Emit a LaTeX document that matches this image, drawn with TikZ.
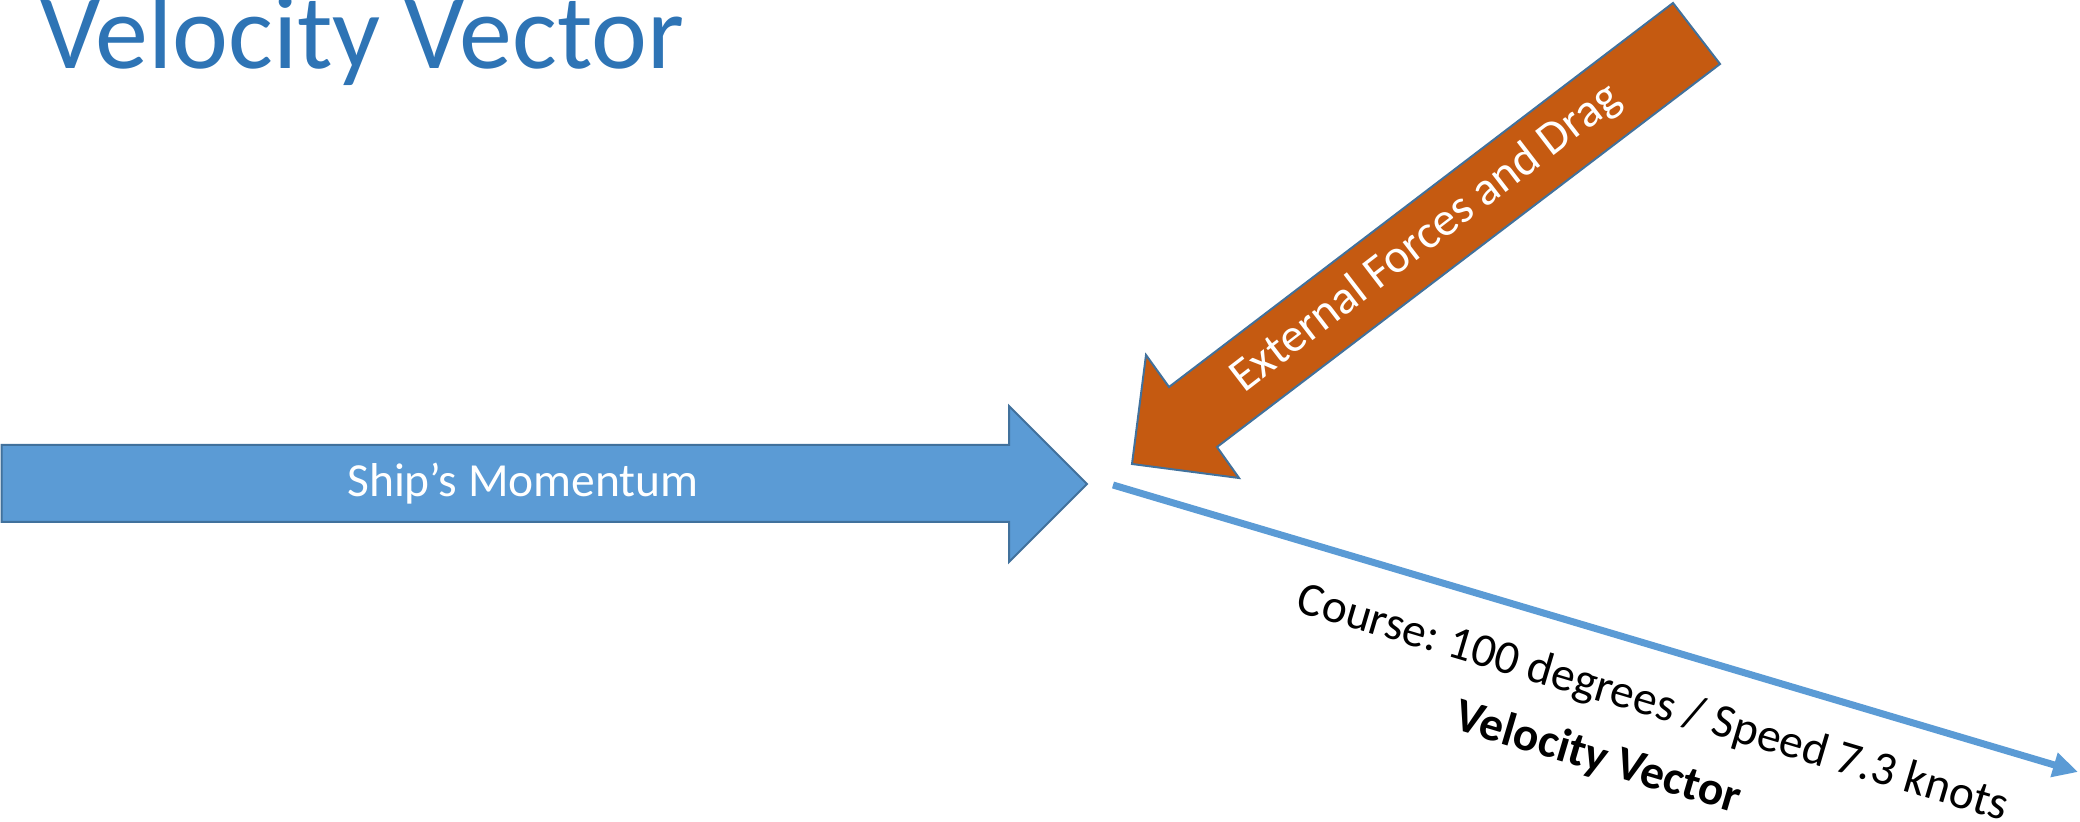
\documentclass[tikz,border=0pt]{standalone}
\usepackage{fontspec}
\setmainfont{Carlito}
\usetikzlibrary{arrows.meta}
\definecolor{titleblue}{HTML}{2E74B5}
\definecolor{arrowblue}{HTML}{5B9BD5}
\definecolor{edgeblue}{HTML}{41719C}
\definecolor{dragorange}{HTML}{C55A11}
\frenchspacing
\begin{document}
\begin{tikzpicture}[x=0.5pt,y=-0.5pt,
  shapeline/.style={draw=edgeblue,line width=1pt,line join=miter},
  lbl/.style={inner sep=0pt,font=\fontsize{23.75}{28}\selectfont},
  vecline/.style={draw=arrowblue,line width=3.5pt,-{Triangle[length=12.5pt,width=12pt]}},
]
\useasboundingbox (0,0) rectangle (2080,822);

% title
\node[inner sep=0pt,anchor=base west,text=titleblue,font=\fontsize{53}{62}\selectfont] (title) at (40,69) {Velocity Vector};

% ship's momentum arrow
\path[shapeline,fill=arrowblue] (1.5,445) -- (1009,445) -- (1009,406) -- (1087,484) -- (1009,562) -- (1009,522) -- (1.5,522) -- cycle;
\node[lbl,text=white] (momentum) at (523,484) {Ship’s Momentum};

% external forces arrow
\path[shapeline,fill=dragorange] (1673,3) -- (1720,64) -- (1217,447) -- (1239,478) -- (1132,464) -- (1146,355) -- (1169,387) -- cycle;
\node[lbl,text=white,rotate=37.5] (drag) at (1426,238) {External Forces and Drag};

% velocity vector
\coordinate (vstart) at (1113,485);
\coordinate (vend) at (2078,772);
\draw[vecline] (vstart) -- (vend);

\node[lbl,anchor=base,rotate=-16.5] (course) at (1649,716) {Course: 100 degrees / Speed 7.3 knots};
\node[lbl,anchor=base,rotate=-16.5,font=\fontsize{23.75}{28}\selectfont\bfseries] (vvlabel) at (1594,771) {Velocity Vector};
\end{tikzpicture}
\end{document}
